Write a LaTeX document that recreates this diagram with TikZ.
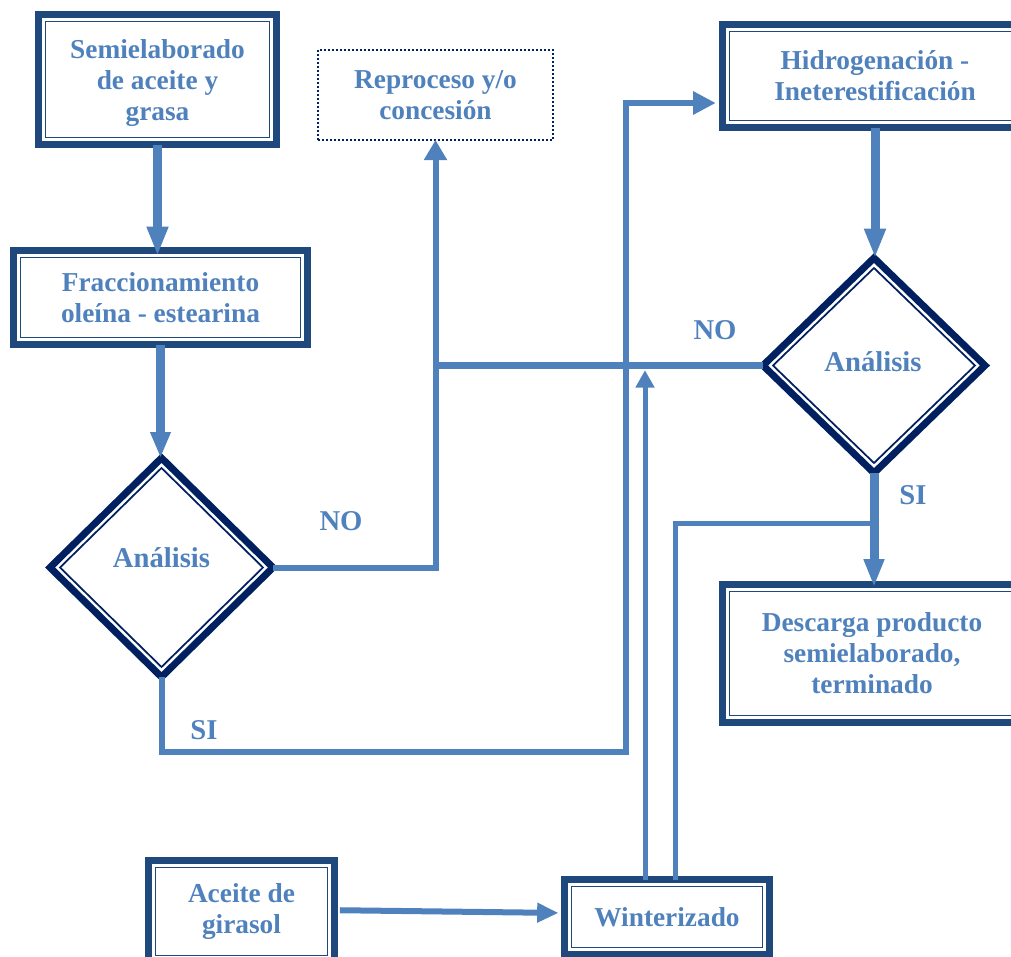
\documentclass[tikz,border=0pt]{standalone}
\usepackage{fontspec}
\setmainfont{Liberation Serif}
\usetikzlibrary{arrows.meta,shapes.geometric}
\definecolor{boxc}{RGB}{31,73,125}
\definecolor{diac}{RGB}{0,32,96}
\definecolor{flow}{RGB}{79,129,189}

\begin{document}
\begin{tikzpicture}[x=0.75pt,y=-0.75pt,
  lbl/.style={text=flow, font=\fontsize{20.5}{23.3}\selectfont\bfseries, align=center},
  biglbl/.style={text=flow, font=\fontsize{21.5}{24}\selectfont\bfseries},
  procbox/.style={rectangle, draw=boxc, line width=5.25pt, fill=white,
    outer sep=0pt, inner sep=0pt, lbl},
  dotbox/.style={rectangle, draw=diac, line width=1.5pt,
    dash pattern=on 1.5pt off 1.5pt, fill=white, outer sep=0pt, inner sep=0pt, lbl},
  decision/.style={diamond, draw=diac, line width=5.25pt, fill=white,
    outer sep=0pt, inner sep=0pt},
  decinner/.style={diamond, draw=diac, line width=1.3pt, outer sep=0pt, inner sep=0pt},
  innerframe/.style={draw=boxc, line width=1.3pt},
  flowline/.style={draw=flow, line width=#1},
]
\useasboundingbox (0,0) rectangle (1011,957);
\clip (0,0) rectangle (1011,957);

% process boxes
\node[procbox, minimum width=178.5pt, minimum height=97.5pt] (b1) at (157.5,79.5) {};
\node[lbl] (b1t) at (157.5,83) {Semielaborado\\de aceite y\\grasa};
\node[procbox, minimum width=220.5pt, minimum height=70.5pt] (b2) at (160.5,297.5)
  {Fraccionamiento\\oleína - estearina};
\node[dotbox, minimum width=176.25pt, minimum height=67.5pt] (rp) at (435.5,95)
  {Reproceso y/o\\concesión};
\node[procbox, minimum width=228.75pt, minimum height=77.25pt] (hg) at (875,76)
  {Hidrogenación -\\Ineterestificación};
\node[procbox, minimum width=224.25pt, minimum height=103.5pt] (dc) at (872,653.5)
  {Descarga producto\\semielaborado,\\terminado};
\node[procbox, minimum width=139.5pt, minimum height=76.5pt] (ac) at (241.5,911.5)
  {Aceite de\\girasol};
\node[procbox, minimum width=153.75pt, minimum height=56.25pt] (wz) at (667,917)
  {Winterizado};

% thin inner frame of the double border
\foreach \n in {b1,b2,hg,dc,ac,wz}
  \draw[innerframe] ([xshift=5.25pt,yshift=-5.25pt]\n.north west)
    rectangle ([xshift=-5.25pt,yshift=5.25pt]\n.south east);

% decisions
\node[decision, minimum width=167.25pt, minimum height=164.25pt] (d1) at (161.5,567.5) {};
\node[decinner, minimum width=152.25pt, minimum height=149.25pt] (d1i) at (d1) {};
\node[biglbl] (t1) at (161.5,558) {Análisis};

\node[decision, minimum width=166.5pt, minimum height=161.25pt] (d2) at (874,365.5) {};
\node[decinner, minimum width=151.5pt, minimum height=146.25pt] (d2i) at (d2) {};
\node[biglbl] (t2) at (873,362) {Análisis};

% branch labels
\node[biglbl] (no1) at (341,521) {NO};
\node[biglbl] (no2) at (715,330) {NO};
\node[biglbl] (si1) at (204,730) {SI};
\node[biglbl] (si2) at (913,495) {SI};

% helper points
\coordinate (siL) at (626,752);
\coordinate (hgIn) at (hg.west |- 0,103);
\coordinate (wzA) at ([xshift=-16.5pt]wz.north);
\coordinate (wzB) at ([xshift=6pt]wz.north);
\coordinate (siJ) at (d2.south |- 0,523);

% connectors
\draw[flowline=6.75pt, -{Triangle[width=15pt,length=22pt]}, shorten >=-4pt]
  (b1.south) -- (b1.south |- b2.north);
\draw[flowline=6.75pt, -{Triangle[width=14.25pt,length=19.5pt]}]
  (b2.south) -- (b2.south |- d1.north);
\draw[flowline=4.5pt, -{Triangle[width=16.5pt,length=15pt]}]
  (d1.east) -| (rp.south);
\draw[flowline=5pt] (d2.west) -- (rp.south |- d2.west);
\draw[flowline=4.5pt, -{Triangle[width=16.5pt,length=17pt]}, shorten >=5pt]
  (d1.south) |- (siL) |- (hgIn);
\draw[flowline=6.75pt, -{Triangle[width=15pt,length=22pt]}]
  (hg.south) -- (hg.south |- d2.north);
\draw[flowline=3.75pt] (wzB) |- (siJ);
\draw[flowline=6.75pt, -{Triangle[width=14.25pt,length=21pt]}, shorten >=-2pt]
  (d2.south) -- (d2.south |- dc.north);
\draw[flowline=4.5pt, -{Triangle[width=14pt,length=16pt]}, shorten <=4pt, shorten >=4.5pt]
  ([yshift=1pt]ac.east) -- ([yshift=3pt]wz.west);
\draw[flowline=3.75pt, -{Triangle[width=13.5pt,length=13pt]}, shorten >=3.5pt]
  (wzA) -- (wzA |- d2.west);
\end{tikzpicture}
\end{document}
